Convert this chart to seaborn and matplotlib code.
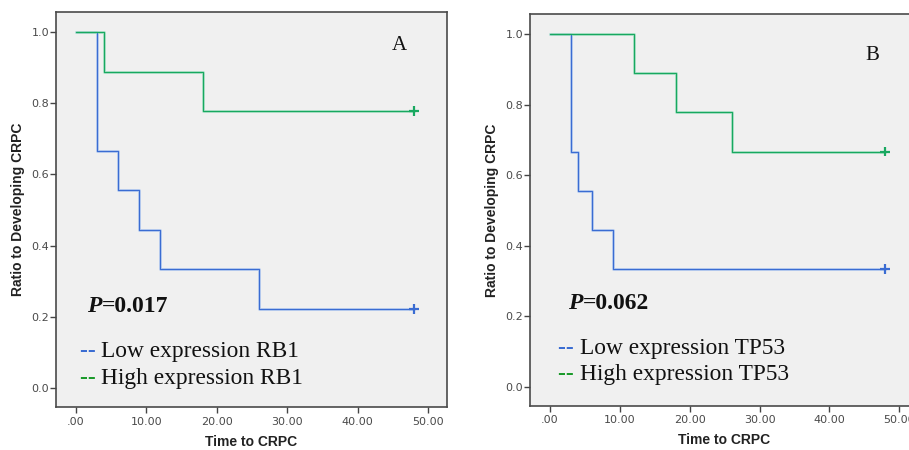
"""
Kaplan-Meier style curves: time to CRPC by RB1 / TP53 expression.
"""

import pandas as pd
import matplotlib
matplotlib.use("Agg")
import matplotlib.pyplot as plt
import seaborn as sns

# ==========================================
# DATA
# ==========================================
low_rb1_time = [0, 3, 6, 9, 12, 26, 48]
low_rb1_surv = [1.0, 0.667, 0.556, 0.444, 0.333, 0.222, 0.222]
high_rb1_time = [0, 4, 18, 48]
high_rb1_surv = [1.0, 0.889, 0.778, 0.778]

low_tp53_time = [0, 3, 4, 6, 9, 48]
low_tp53_surv = [1.0, 0.667, 0.556, 0.444, 0.333, 0.333]
high_tp53_time = [0, 12, 18, 26, 48]
high_tp53_surv = [1.0, 0.889, 0.778, 0.667, 0.667]

x_ticks = [0, 10, 20, 30, 40, 50]
x_tick_labels = [".00", "10.00", "20.00", "30.00", "40.00", "50.00"]
y_ticks = [0.0, 0.2, 0.4, 0.6, 0.8, 1.0]

panels = [
    dict(tag="A", gene="RB1", p="=0.017",
         low=(low_rb1_time, low_rb1_surv), high=(high_rb1_time, high_rb1_surv)),
    dict(tag="B", gene="TP53", p="=0.062",
         low=(low_tp53_time, low_tp53_surv), high=(high_tp53_time, high_tp53_surv)),
]

BLUE = "#3a6cd2"
BLUE_HALO = "#b3c9ee"
GREEN = "#18a860"
GREEN_HALO = "#a6dfc2"
BG = "#f0f0f0"
SERIF = "Liberation Serif"
SANS = "Liberation Sans"

sns.set_style("white")
plt.rcParams["font.family"] = ["DejaVu Sans"]


def build_frame(panel):
    rows = []
    for grp, (t, s) in (("low", panel["low"]), ("high", panel["high"])):
        for ti, si in zip(t, s):
            rows.append({"time": ti, "surv": si, "group": grp})
    return pd.DataFrame(rows)


def draw_panel(ax, panel, xlim, ylim, tag_xy, p_xy, leg_x, leg_y):
    df = build_frame(panel)
    ax.set_facecolor(BG)

    # halo + core line, like the SPSS output
    sns.lineplot(data=df, x="time", y="surv", hue="group", estimator=None, sort=False,
                 palette={"low": BLUE_HALO, "high": GREEN_HALO}, lw=2.0,
                 drawstyle="steps-post", legend=False, ax=ax)
    sns.lineplot(data=df, x="time", y="surv", hue="group", estimator=None, sort=False,
                 palette={"low": BLUE, "high": GREEN}, lw=0.8,
                 drawstyle="steps-post", legend=False, ax=ax)

    # censored marks at the last time
    cens = df.groupby("group").tail(1)
    sns.scatterplot(data=cens, x="time", y="surv", hue="group",
                    palette={"low": BLUE, "high": GREEN}, marker="+", s=50,
                    linewidth=1.6, legend=False, ax=ax, zorder=5)

    ax.set_xlim(*xlim)
    ax.set_ylim(*ylim)
    ax.set_xticks(x_ticks)
    ax.set_xticklabels(x_tick_labels)
    ax.set_yticks(y_ticks)
    ax.set_yticklabels([f"{v:.1f}" for v in y_ticks])
    ax.tick_params(axis="both", which="major", direction="out", length=4, width=1,
                   color="#444444", labelsize=8, labelcolor="#4a4a4a", left=True, bottom=True)
    ax.tick_params(axis="y", pad=1)
    ax.tick_params(axis="x", pad=3)

    for sp in ax.spines.values():
        sp.set_visible(True)
        sp.set_color("#4a4a4a")
        sp.set_linewidth(1.2)

    ax.set_xlabel("Time to CRPC", fontsize=10, fontweight="bold", family=SANS, color="#222222")
    ax.set_ylabel("Ratio to Developing CRPC", fontsize=10, fontweight="bold", family=SANS,
                  color="#222222")
    ax.xaxis.set_label_coords(0.5, -0.07)
    ax.yaxis.set_label_coords(-0.08, 0.5)

    ax.text(tag_xy[0], tag_xy[1], panel["tag"], family=SERIF, fontsize=15,
            ha="center", va="center", color="#111111")

    t = ax.text(p_xy[0], p_xy[1], "P", family=SERIF, fontsize=17, fontstyle="italic",
                fontweight="bold", ha="left", va="baseline", color="#111111")
    ax.annotate(panel["p"], xy=(1, 0), xycoords=t, family=SERIF, fontsize=17,
                fontweight="bold", ha="left", va="bottom", color="#111111")

    for (label, col), y in zip(((f"Low expression {panel['gene']}", BLUE),
                                (f"High expression {panel['gene']}", "#1a9a2a")), leg_y):
        d = ax.text(leg_x, y, "-- ", family=SERIF, fontsize=16.8, color=col,
                    fontweight="bold", ha="left", va="baseline")
        ax.annotate(label, xy=(1, 0), xycoords=d, family=SERIF, fontsize=16.8,
                    ha="left", va="bottom", color="#111111")


def main():
    fig = plt.figure(figsize=(9.09, 4.5), dpi=100)
    fig.patch.set_facecolor("white")

    ax_a = fig.add_axes([0.0616, 0.0956, 0.4301, 0.8778])
    ax_b = fig.add_axes([0.5834, 0.0984, 0.4268, 0.8705])

    draw_panel(ax_a, panels[0], (-2.84, 52.7), (-0.054, 1.057),
               tag_xy=(46.0, 0.964), p_xy=(1.6, 0.214), leg_x=0.5, leg_y=(0.0856, 0.0104))
    draw_panel(ax_b, panels[1], (-2.78, 52.7), (-0.054, 1.057),
               tag_xy=(46.1, 0.94), p_xy=(2.66, 0.219), leg_x=1.2, leg_y=(0.093, 0.019))

    fig.savefig("out.png", dpi=100)
    plt.close(fig)


if __name__ == "__main__":
    main()
